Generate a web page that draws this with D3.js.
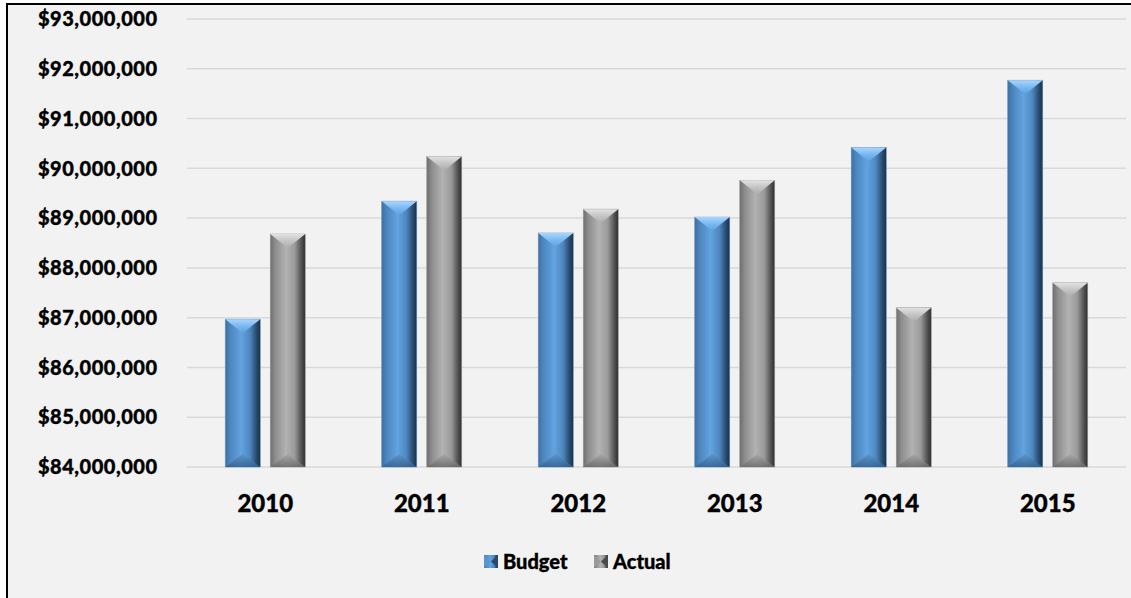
<!DOCTYPE html>
<html>
<head>
<meta charset="utf-8">
<script src="https://cdn.jsdelivr.net/npm/d3@7"></script>
<style>
  html, body { margin: 0; padding: 0; background: #ffffff; }
  svg { display: block; }
  text { font-family: Lato, "Open Sans", sans-serif; font-weight: 900; fill: #000; stroke: #000; stroke-width: 0.35; }
</style>
</head>
<body>
<svg id="chart" width="1131" height="598"></svg>
<script>
const years = ["2010", "2011", "2012", "2013", "2014", "2015"];
const series = ["Budget", "Actual"];
const budget = [86970000, 89340000, 88700000, 89020000, 90420000, 91770000];
const actual = [88680000, 90240000, 89180000, 89760000, 87200000, 87700000];
const yTicks = [84e6, 85e6, 86e6, 87e6, 88e6, 89e6, 90e6, 91e6, 92e6, 93e6];

const svg = d3.select("#chart");
const W = 1131, H = 598;

// chart area background and border
svg.append("rect").attr("x", 7).attr("y", 4).attr("width", W - 7).attr("height", H - 4).attr("fill", "#f2f2f2");
svg.append("line").attr("x1", 7).attr("x2", 7).attr("y1", 3).attr("y2", H).attr("stroke", "#000").attr("stroke-width", 2);
svg.append("line").attr("x1", 6).attr("x2", W).attr("y1", 4).attr("y2", 4).attr("stroke", "#000").attr("stroke-width", 2);

const y = d3.scaleLinear().domain([84e6, 93e6]).range([467, 19]);
const x0 = d3.scaleBand().domain(years).range([187, 1126]).paddingInner(0).paddingOuter(0);
const x1 = d3.scaleBand().domain(series).range([-40, 40]).paddingInner(2 - 80 / 45);

const defs = svg.append("defs");
function hgrad(id, stops) {
  const g = defs.append("linearGradient").attr("id", id).attr("x1", 0).attr("x2", 1).attr("y1", 0).attr("y2", 0);
  stops.forEach(s => g.append("stop").attr("offset", s[0]).attr("stop-color", s[1]));
}
function vgrad(id, stops) {
  const g = defs.append("linearGradient").attr("id", id).attr("x1", 0).attr("x2", 0).attr("y1", 0).attr("y2", 1);
  stops.forEach(s => g.append("stop").attr("offset", s[0]).attr("stop-color", s[1]));
}
hgrad("gBudget", [[0, "#3f70a0"], [0.15, "#4d87c0"], [0.45, "#62a3e0"], [0.7, "#4f88c0"], [0.88, "#2a4f74"], [1, "#1a2f45"]]);
hgrad("gActual", [[0, "#6e6e6e"], [0.15, "#8e8e8e"], [0.45, "#b2b2b2"], [0.7, "#9a9a9a"], [0.88, "#555555"], [1, "#2e2e2e"]]);
vgrad("tBudget", [[0, "#a8d6ff"], [0.5, "#7ab8f0"], [1, "#5f9fdc"]]);
vgrad("tActual", [[0, "#e2e2e2"], [0.5, "#c4c4c4"], [1, "#acacac"]]);
vgrad("bBudget", [[0, "#5a92c8"], [1, "#34628f"]]);
vgrad("bActual", [[0, "#a6a6a6"], [1, "#6a6a6a"]]);

// gridlines
svg.append("g").selectAll("line").data(yTicks).join("line")
  .attr("x1", 187).attr("x2", 1126)
  .attr("y1", d => y(d)).attr("y2", d => y(d))
  .attr("stroke", "#d9d9d9").attr("stroke-width", 1.5);

// y labels
const fmt = d3.format("$,.0f");
svg.append("g").selectAll("text").data(yTicks).join("text")
  .attr("x", 157).attr("y", d => y(d)).attr("dy", "0.36em")
  .attr("text-anchor", "end").attr("font-size", 20)
  .attr("textLength", 119).attr("lengthAdjust", "spacing")
  .text(d => fmt(d));

// bars
const data = [];
years.forEach((yr, i) => {
  data.push({ year: yr, s: "Budget", v: budget[i] });
  data.push({ year: yr, s: "Actual", v: actual[i] });
});
const bars = svg.append("g").selectAll("g").data(data).join("g")
  .attr("transform", d => `translate(${x0(d.year) + x0.bandwidth() / 2 + x1(d.s)},0)`);
const bw = x1.bandwidth();
bars.append("rect")
  .attr("x", 0).attr("width", bw)
  .attr("y", d => y(d.v)).attr("height", d => y(84e6) - y(d.v))
  .attr("fill", d => `url(#g${d.s})`)
  .attr("stroke", d => d.s === "Budget" ? "#5b8fc4" : "#9a9a9a").attr("stroke-width", 0.6);
// top chevron
bars.append("path")
  .attr("d", d => {
    const t = y(d.v);
    return `M0,${t} L${bw},${t} L${bw / 2},${t + 14} Z`;
  })
  .attr("fill", d => `url(#t${d.s})`);
// bottom bevel
bars.append("path")
  .attr("d", d => {
    const b = y(84e6);
    return `M0,${b} L${bw / 2},${b - 13} L${bw},${b} Z`;
  })
  .attr("fill", d => `url(#b${d.s})`).attr("opacity", 0.85);

// x labels
svg.append("g").selectAll("text").data(years).join("text")
  .attr("x", d => x0(d) + x0.bandwidth() / 2).attr("y", 503).attr("dy", "0.36em")
  .attr("text-anchor", "middle").attr("font-size", 24)
  .text(d => d);

// legend
const legend = [{ s: "Budget", x: 484 }, { s: "Actual", x: 594 }];
const lg = svg.append("g").selectAll("g").data(legend).join("g")
  .attr("transform", d => `translate(${d.x},555)`);
lg.append("rect").attr("width", 14).attr("height", 13).attr("fill", d => `url(#g${d.s})`);
lg.append("path").attr("d", "M0,0 L7,6.5 L0,13 Z").attr("fill", d => d.s === "Budget" ? "#5a95cf" : "#9a9a9a");
lg.append("path").attr("d", "M14,0 L7,6.5 L14,13 Z").attr("fill", d => d.s === "Budget" ? "#27496b" : "#4a4a4a");
lg.append("text").attr("x", 19).attr("y", 7).attr("dy", "0.36em").attr("font-size", 20).text(d => d.s);
</script>
</body>
</html>
